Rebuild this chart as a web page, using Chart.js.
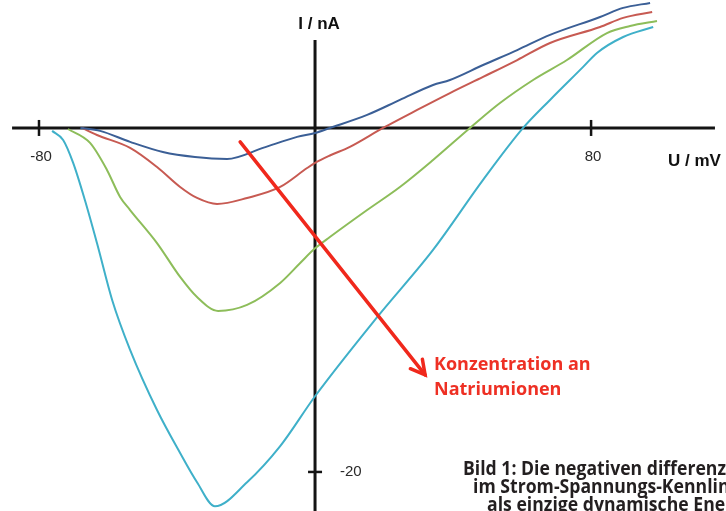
<!DOCTYPE html>
<html>
<head>
<meta charset="utf-8">
<script src="https://cdn.jsdelivr.net/npm/chart.js@4.4.0/dist/chart.umd.min.js"></script>
<style>
  html, body { margin: 0; padding: 0; background: #fff; }
  #wrap { width: 726px; height: 511px; }
</style>
</head>
<body>
<div id="wrap"><canvas id="kennlinie" width="726" height="511"></canvas></div>
<script>
const uBlau = [-68, -62.3, -53.6, -44.1, -34.8, -25.5, -15.1, -5.2, 0, 4.3, 15.1, 24.6, 34.2, 39.1, 48.7, 58.6, 68.1, 82.6, 89.3, 97.1];
const iBlau = [0, -0.17, -0.81, -1.4, -1.69, -1.8, -1.16, -0.52, -0.29, 0, 0.76, 1.63, 2.5, 2.79, 3.66, 4.53, 5.41, 6.45, 6.98, 7.27];

const uRot = [-67.5, -63.2, -53.6, -45.8, -39.1, -34.2, -28.4, -19.7, -10.1, -2.3, 0, 4.3, 10.1, 19.7, 29.6, 39.1, 48.7, 58.6, 68.1, 82.6, 89.3, 97.7];
const iRot = [0, -0.41, -1.16, -2.27, -3.43, -4.07, -4.42, -4.07, -3.43, -2.33, -2.03, -1.6, -1.1, 0, 1.05, 2.03, 2.97, 3.95, 4.94, 5.87, 6.4, 6.74];

const uGruen = [-71.6, -65.2, -60.3, -56.5, -53.6, -45.8, -39.1, -34.2, -28.1, -19.7, -10.1, -4.3, 0, 4.3, 15.1, 24.6, 34.2, 44.9, 53.6, 63.2, 73, 84.6, 91.3, 99.1];
const iGruen = [-0.06, -0.87, -2.44, -4.01, -4.77, -6.69, -8.66, -9.83, -10.64, -10.29, -9.01, -7.85, -7.0, -6.34, -4.77, -3.43, -1.86, 0, 1.45, 2.79, 3.95, 5.52, 5.93, 6.22];

const uCyan = [-76.2, -73, -70.1, -66.7, -63.2, -58.8, -53.6, -45.8, -39.1, -34.2, -29, -19.7, -10.1, 0, 18, 34.2, 48.7, 60.3, 68.1, 77.7, 81.7, 89.3, 98];
const iCyan = [-0.17, -0.7, -2.03, -4.19, -6.69, -10, -12.9, -16.4, -18.9, -20.6, -22, -20.6, -18.5, -15.6, -11, -7.09, -3.02, 0, 1.63, 3.55, 4.36, 5.29, 5.87];

// Achsenbeschriftung
const xTicks = [-80, 80];
const yTicks = [-20];

// Pfeil "Konzentration an Natriumionen" (Start, Ende in U/I)
const pfeilU = [-21.7, 31.9];
const pfeilI = [-0.81, -14.36];

function punkte(u, i){
  return u.map((x, k) => ({ x: x, y: i[k] }));
}

// Achsen, Ticks und Texte
const achsenPlugin = {
  id: 'achsen',
  beforeDatasetsDraw(chart){
    const ctx = chart.ctx;
    const xs = chart.scales.x, ys = chart.scales.y;
    const x0 = xs.getPixelForValue(0), y0 = ys.getPixelForValue(0);
    ctx.save();
    ctx.strokeStyle = '#141414';
    ctx.lineWidth = 3;
    ctx.lineCap = 'butt';
    // x-Achse
    ctx.beginPath();
    ctx.moveTo(xs.getPixelForValue(-87.8), y0);
    ctx.lineTo(xs.getPixelForValue(115.9), y0);
    ctx.stroke();
    // y-Achse
    ctx.beginPath();
    ctx.moveTo(x0, ys.getPixelForValue(5.12));
    ctx.lineTo(x0, chart.height);
    ctx.stroke();
    // Ticks
    ctx.lineWidth = 2.5;
    xTicks.forEach(t => {
      const px = xs.getPixelForValue(t);
      ctx.beginPath(); ctx.moveTo(px, y0 - 8); ctx.lineTo(px, y0 + 8); ctx.stroke();
    });
    yTicks.forEach(t => {
      const py = ys.getPixelForValue(t);
      ctx.beginPath(); ctx.moveTo(x0 - 7, py); ctx.lineTo(x0 + 7, py); ctx.stroke();
    });
    // Tick-Labels
    ctx.fillStyle = '#2a2a2a';
    ctx.font = '15px "Liberation Sans", Arial, sans-serif';
    ctx.textBaseline = 'middle';
    ctx.textAlign = 'center';
    xTicks.forEach(t => ctx.fillText(String(t), xs.getPixelForValue(t) + 2, y0 + 29));
    ctx.textAlign = 'left';
    yTicks.forEach(t => ctx.fillText(String(t), x0 + 25, ys.getPixelForValue(t)));
    // Achsentitel
    ctx.fillStyle = '#111';
    ctx.font = 'bold 17px "Liberation Sans", Arial, sans-serif';
    ctx.textAlign = 'center';
    ctx.fillText('I / nA', x0 + 4, 24);
    ctx.textAlign = 'left';
    ctx.fillText('U / mV', 668, y0 + 33);
    ctx.restore();
  },
  afterDatasetsDraw(chart){
    const ctx = chart.ctx;
    const xs = chart.scales.x, ys = chart.scales.y;
    const ax = xs.getPixelForValue(pfeilU[0]), ay = ys.getPixelForValue(pfeilI[0]);
    const bx = xs.getPixelForValue(pfeilU[1]), by = ys.getPixelForValue(pfeilI[1]);
    const ang = Math.atan2(by - ay, bx - ax);
    ctx.save();
    ctx.strokeStyle = '#f0281c';
    ctx.lineWidth = 3.5;
    ctx.lineCap = 'round';
    ctx.lineJoin = 'miter';
    ctx.beginPath();
    ctx.moveTo(ax, ay);
    ctx.lineTo(bx, by);
    ctx.stroke();
    const len = 16, spread = 0.5;
    ctx.beginPath();
    ctx.moveTo(bx - len * Math.cos(ang - spread), by - len * Math.sin(ang - spread));
    ctx.lineTo(bx, by);
    ctx.lineTo(bx - len * Math.cos(ang + spread), by - len * Math.sin(ang + spread));
    ctx.stroke();
    // Beschriftung
    ctx.fillStyle = '#ee3024';
    ctx.font = 'bold 18px "Open Sans", sans-serif';
    ctx.textAlign = 'left';
    ctx.textBaseline = 'alphabetic';
    ctx.fillText('Konzentration an', 434, 370);
    ctx.fillText('Natriumionen', 434, 395);
    // Bildunterschrift, schmal gesetzt (rechts abgeschnitten)
    ctx.fillStyle = '#231f20';
    ctx.font = 'bold 19px "Open Sans", sans-serif';
    const s = 263 / ctx.measureText('Bild 1: Die negativen differenz').width;
    ctx.translate(463, 0);
    ctx.scale(s, 1);
    ctx.fillText('Bild 1: Die negativen differenziellen', 0, 475);
    ctx.fillText('im Strom-Spannungs-Kennlinien', 10 / s, 493);
    ctx.fillText('als einzige dynamische Energie', 24 / s, 511);
    ctx.restore();
  }
};

const linie = (label, u, i, farbe) => ({
  label: label,
  data: punkte(u, i),
  showLine: true,
  borderColor: farbe,
  borderWidth: 2,
  pointRadius: 0,
  cubicInterpolationMode: 'monotone',
  fill: false
});

new Chart(document.getElementById('kennlinie').getContext('2d'), {
  type: 'scatter',
  data: {
    datasets: [
      linie('blau', uBlau, iBlau, '#3b5f96'),
      linie('rot', uRot, iRot, '#c75a52'),
      linie('gruen', uGruen, iGruen, '#8dbd5a'),
      linie('cyan', uCyan, iCyan, '#3fb0c9')
    ]
  },
  options: {
    responsive: false,
    animation: false,
    layout: { padding: 0 },
    plugins: { legend: { display: false }, tooltip: { enabled: false } },
    scales: {
      x: { type: 'linear', display: false, min: -91.3, max: 119.1 },
      y: { type: 'linear', display: false, min: -22.27, max: 7.44 }
    }
  },
  plugins: [achsenPlugin]
});
</script>
</body>
</html>
